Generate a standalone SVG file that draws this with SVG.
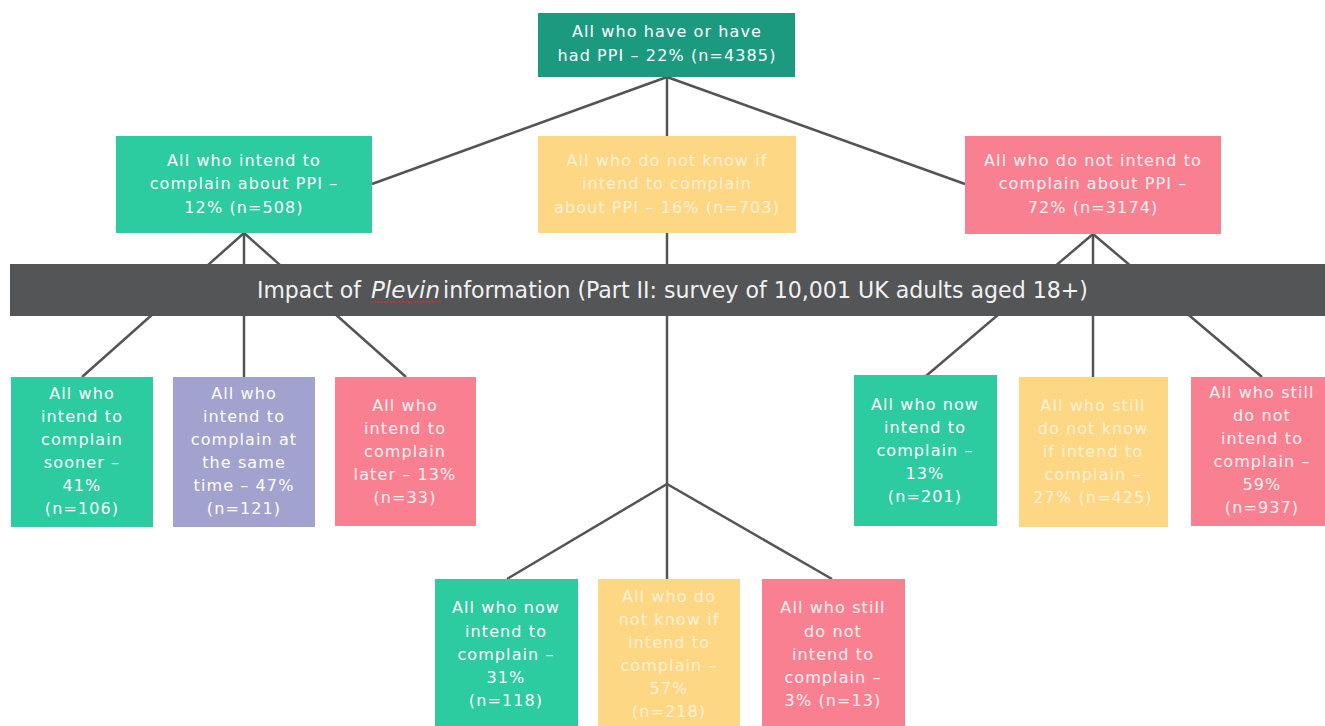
<svg xmlns="http://www.w3.org/2000/svg" width="1325" height="726" viewBox="0 0 1325 726">
<style>
.lnk{stroke:#545454;stroke-width:2.5;fill:none}
.t{font-family:"DejaVu Sans","Liberation Sans",sans-serif;font-size:16px;letter-spacing:1.1px;text-anchor:middle}
.w{fill:#ffffff}
.y{fill:#fdf1d6}
.p{fill:#fff0f2}
.dk{fill:#1b9a80}
.tl{fill:#2ccba0}
.ye{fill:#fdd784}
.pk{fill:#f98090}
.pu{fill:#a2a2cf}
.ban{font-family:"Liberation Sans Narrow","DejaVu Sans Condensed","Liberation Sans",sans-serif;font-size:23px;fill:#f2f2f2}
</style>
<rect width="1325" height="726" fill="#ffffff"/>
<g id="connectors">
<line class="lnk" x1="667" y1="77" x2="372" y2="184"/>
<line class="lnk" x1="667" y1="77" x2="667" y2="136"/>
<line class="lnk" x1="667" y1="77" x2="965" y2="184"/>
<line class="lnk" x1="244" y1="233" x2="82" y2="377"/>
<line class="lnk" x1="244" y1="233" x2="244" y2="377"/>
<line class="lnk" x1="244" y1="233" x2="406" y2="377"/>
<line class="lnk" x1="667" y1="233" x2="667" y2="484"/>
<line class="lnk" x1="667" y1="484" x2="507" y2="579"/>
<line class="lnk" x1="667" y1="484" x2="667" y2="579"/>
<line class="lnk" x1="667" y1="484" x2="832" y2="579"/>
<line class="lnk" x1="1093" y1="234" x2="926" y2="376"/>
<line class="lnk" x1="1093" y1="234" x2="1093" y2="377"/>
<line class="lnk" x1="1093" y1="234" x2="1262" y2="377"/>
</g>
<g id="banner">
<rect x="10" y="264" width="1315" height="52" fill="#545556"/>
<text class="ban" x="257" y="298" textLength="104" lengthAdjust="spacingAndGlyphs">Impact of</text>
<text class="ban" x="371" y="298" font-style="italic" textLength="69" lengthAdjust="spacingAndGlyphs">Plevin</text>
<line x1="372" y1="302" x2="440" y2="302" stroke="#e03030" stroke-width="1.5" stroke-dasharray="1.5,1.5"/>
<text class="ban" x="443" y="298" textLength="645" lengthAdjust="spacingAndGlyphs">information (Part II: survey of 10,001 UK adults aged 18+)</text>
</g>
<g id="n_top">
<rect class="dk" x="538" y="13" width="257" height="64"/>
<text class="t w" x="667" y="37">All who have or have</text>
<text class="t w" x="667" y="61">had PPI – 22% (n=4385)</text>
</g>
<g id="n_intend">
<rect class="tl" x="116" y="136" width="256" height="97"/>
<text class="t w" x="244" y="166">All who intend to</text>
<text class="t w" x="244" y="189">complain about PPI –</text>
<text class="t w" x="244" y="213">12% (n=508)</text>
</g>
<g id="n_dontknow">
<rect class="ye" x="538" y="136" width="258" height="97"/>
<text class="t y" x="667" y="166">All who do not know if</text>
<text class="t y" x="667" y="189">intend to complain</text>
<text class="t y" x="667" y="213">about PPI – 16% (n=703)</text>
</g>
<g id="n_notintend">
<rect class="pk" x="965" y="136" width="256" height="98"/>
<text class="t p" x="1093" y="166">All who do not intend to</text>
<text class="t p" x="1093" y="189">complain about PPI –</text>
<text class="t p" x="1093" y="213">72% (n=3174)</text>
</g>
<g id="n_sooner">
<rect class="tl" x="11" y="377" width="142" height="150"/>
<text class="t w" x="82" y="399">All who</text>
<text class="t w" x="82" y="422">intend to</text>
<text class="t w" x="82" y="445">complain</text>
<text class="t w" x="82" y="468">sooner –</text>
<text class="t w" x="82" y="491">41%</text>
<text class="t w" x="82" y="514">(n=106)</text>
</g>
<g id="n_same">
<rect class="pu" x="173" y="377" width="142" height="150"/>
<text class="t w" x="244" y="399">All who</text>
<text class="t w" x="244" y="422">intend to</text>
<text class="t w" x="244" y="445">complain at</text>
<text class="t w" x="244" y="468">the same</text>
<text class="t w" x="244" y="491">time – 47%</text>
<text class="t w" x="244" y="514">(n=121)</text>
</g>
<g id="n_later">
<rect class="pk" x="335" y="377" width="141" height="149"/>
<text class="t p" x="405" y="411">All who</text>
<text class="t p" x="405" y="434">intend to</text>
<text class="t p" x="405" y="457">complain</text>
<text class="t p" x="405" y="480">later – 13%</text>
<text class="t p" x="405" y="503">(n=33)</text>
</g>
<g id="n_r_now">
<rect class="tl" x="854" y="375" width="143" height="151"/>
<text class="t w" x="925" y="410">All who now</text>
<text class="t w" x="925" y="433">intend to</text>
<text class="t w" x="925" y="456">complain –</text>
<text class="t w" x="925" y="479">13%</text>
<text class="t w" x="925" y="502">(n=201)</text>
</g>
<g id="n_r_still_dk">
<rect class="ye" x="1019" y="377" width="149" height="150"/>
<text class="t y" x="1093" y="411">All who still</text>
<text class="t y" x="1093" y="434">do not know</text>
<text class="t y" x="1093" y="457">if intend to</text>
<text class="t y" x="1093" y="480">complain –</text>
<text class="t y" x="1093" y="503">27% (n=425)</text>
</g>
<g id="n_r_still_not">
<rect class="pk" x="1191" y="377" width="134" height="149"/>
<text class="t p" x="1262" y="398">All who still</text>
<text class="t p" x="1262" y="421">do not</text>
<text class="t p" x="1262" y="444">intend to</text>
<text class="t p" x="1262" y="467">complain –</text>
<text class="t p" x="1262" y="490">59%</text>
<text class="t p" x="1262" y="513">(n=937)</text>
</g>
<g id="n_m_now">
<rect class="tl" x="435" y="579" width="143" height="147"/>
<text class="t w" x="506" y="613">All who now</text>
<text class="t w" x="506" y="637">intend to</text>
<text class="t w" x="506" y="660">complain –</text>
<text class="t w" x="506" y="683">31%</text>
<text class="t w" x="506" y="706">(n=118)</text>
</g>
<g id="n_m_dk">
<rect class="ye" x="598" y="579" width="142" height="147"/>
<text class="t y" x="669" y="602">All who do</text>
<text class="t y" x="669" y="625">not know if</text>
<text class="t y" x="669" y="648">intend to</text>
<text class="t y" x="669" y="671">complain –</text>
<text class="t y" x="669" y="694">57%</text>
<text class="t y" x="669" y="717">(n=218)</text>
</g>
<g id="n_m_not">
<rect class="pk" x="762" y="579" width="143" height="147"/>
<text class="t p" x="833" y="613">All who still</text>
<text class="t p" x="833" y="637">do not</text>
<text class="t p" x="833" y="660">intend to</text>
<text class="t p" x="833" y="683">complain –</text>
<text class="t p" x="833" y="706">3% (n=13)</text>
</g>
</svg>
